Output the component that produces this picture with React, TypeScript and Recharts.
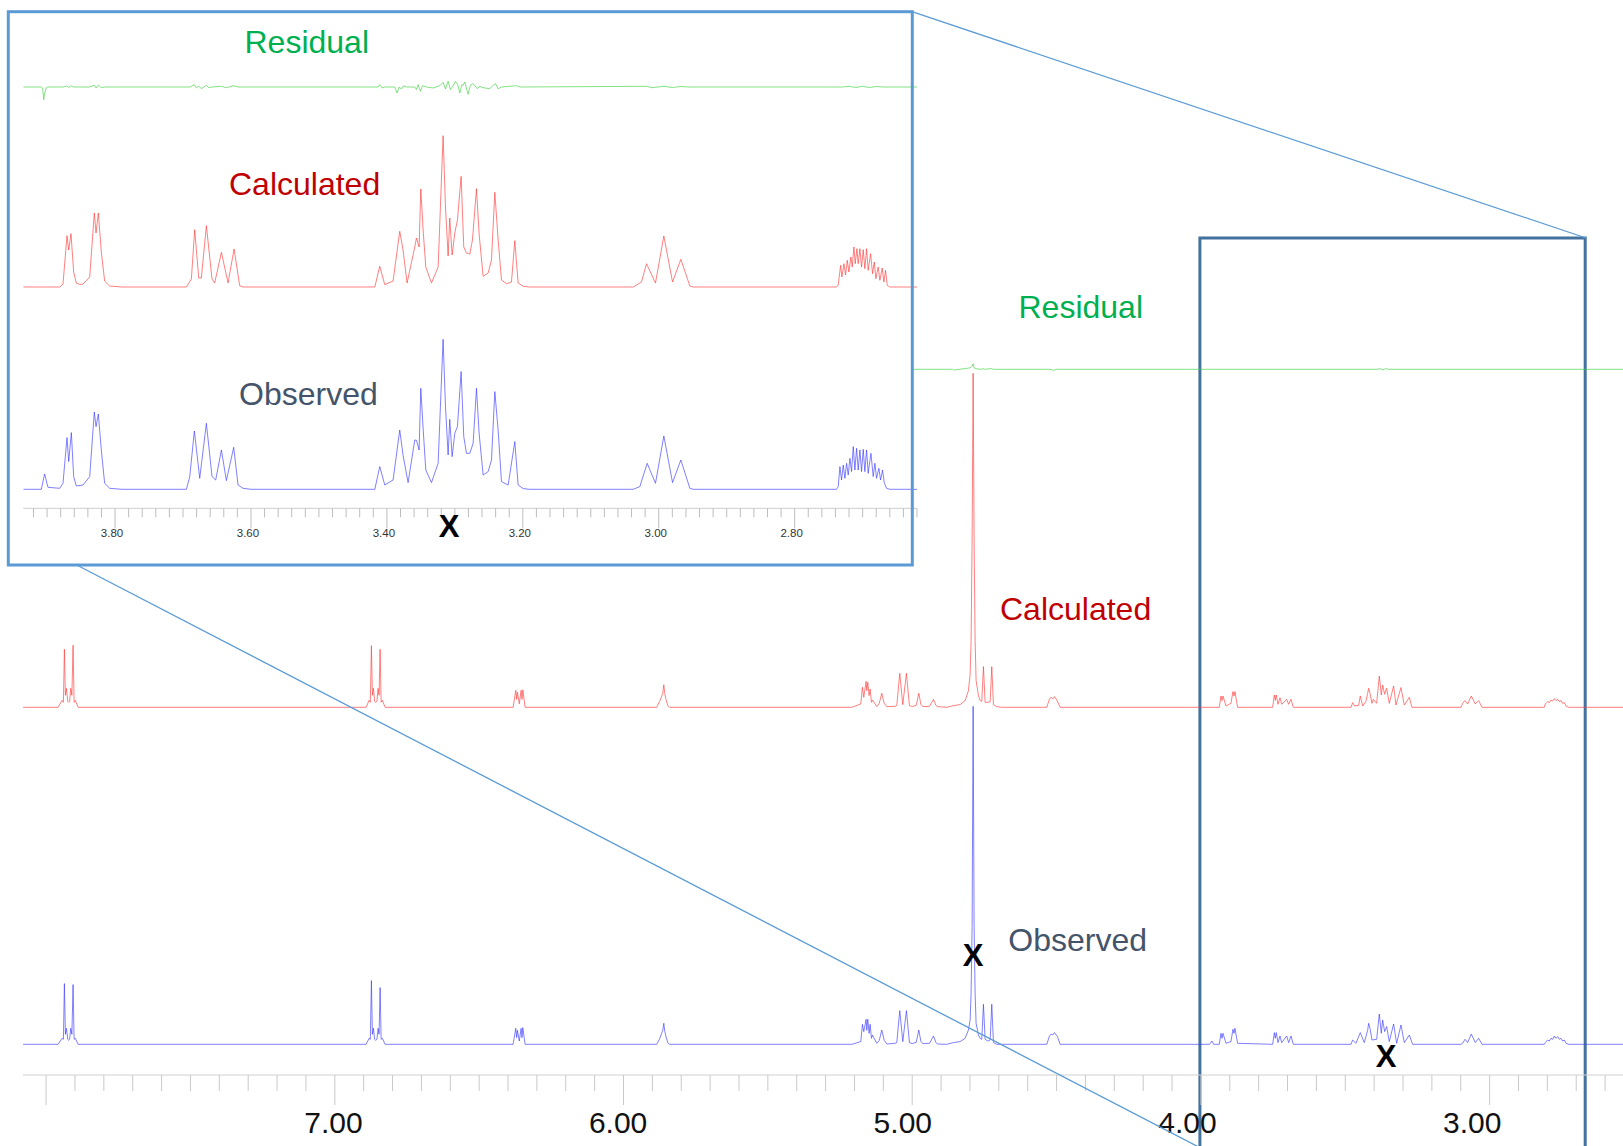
import React from 'react';
import { ComposedChart, LineChart, Line, XAxis, YAxis, ReferenceArea } from 'recharts';

type Pt = [number, number];

// ---------- Main spectrum (ppm, intensity) ----------
const mainObserved: Pt[] = [
  [8.08, 0], [7.9584, 0], [7.9446, 6], [7.94, 5], [7.9366, 60.7], [7.9331, 10], [7.9297, 16], [7.9249, 5], [7.9221, 4], [7.9186, 5], [7.9145, 16], [7.9107, 10], [7.9065, 59.7], [7.903, 5], [7.8985, 6], [7.8892, 0],
  [6.8916, 0], [6.8812, 6], [6.877, 5], [6.8732, 63.7], [6.8698, 10], [6.8663, 16], [6.862, 5], [6.8583, 4], [6.854, 5], [6.85, 16], [6.8466, 10], [6.8431, 56.7], [6.8395, 5], [6.8351, 6], [6.8258, 0],
  [6.3824, 0], [6.3731, 16], [6.37, 6.7], [6.3675, 14], [6.3609, 3.3], [6.3547, 16], [6.3515, 6.7], [6.3488, 16.7], [6.3408, 0],
  [5.885, 0], [5.8757, 5], [5.869, 10], [5.864, 14], [5.8604, 21], [5.857, 13], [5.853, 8], [5.8465, 1.5], [5.84, 0],
  [5.2093, 0], [5.1781, 2.7], [5.1724, 20], [5.1677, 12.7], [5.1597, 25], [5.1574, 14], [5.1539, 25], [5.1493, 11], [5.1458, 20], [5.1412, 6], [5.1377, 9.3], [5.1227, 1], [5.114, 4], [5.1054, 14.3], [5.097, 4], [5.0881, 0.3],
  [5.0592, 1], [5.0534, 1.7], [5.0431, 33.7], [5.0327, 2.7], [5.02, 33.7], [5.0096, 1.7], [5.0, 0.7],
  [4.986, 2], [4.9772, 14.3], [4.97, 3], [4.9634, 0.7],
  [4.94, 1], [4.9264, 8.3], [4.918, 2], [4.9126, 0.3],
  [4.8803, 0], [4.8572, 1.7], [4.8341, 2.7], [4.8168, 6], [4.8052, 14.3], [4.7994, 24.3], [4.796, 51], [4.7925, 117.7], [4.789, 338], [4.7856, 117.7], [4.7821, 51], [4.7787, 21], [4.7706, 9.3], [4.7648, 6], [4.759, 5], [4.7532, 40], [4.7475, 5], [4.7382, 3.3], [4.73, 4.3], [4.7244, 40], [4.7186, 1.7], [4.7071, 0],
  [4.5339, 0], [4.5246, 8.3], [4.5189, 10.3], [4.5131, 9.3], [4.5073, 11.7], [4.5015, 9.3], [4.4969, 7.7], [4.4877, 0],
  [3.97, 0], [3.9617, 3.3], [3.956, 0],
  [3.9363, 0], [3.9305, 11], [3.927, 6], [3.9236, 11], [3.9132, 1], [3.8959, 2.7], [3.889, 15], [3.8855, 11], [3.8821, 16], [3.8728, 1],
  [3.7515, 0], [3.7457, 11.7], [3.7423, 6], [3.7388, 11.7], [3.733, 1.7], [3.7261, 8.3], [3.7203, 1.7], [3.703, 8.3], [3.6961, 1.7], [3.688, 8.3], [3.6799, 0],
  [3.4802, 0], [3.4745, 4.3], [3.4629, 1], [3.4479, 11.7], [3.4341, 1.7], [3.4225, 14], [3.419, 21], [3.4144, 16], [3.4075, 4.3], [3.3913, 5], [3.3821, 30.3], [3.3752, 11], [3.3706, 24.3], [3.3636, 12.7], [3.3567, 17.7], [3.3475, 2.7], [3.3325, 20.3], [3.3221, 1], [3.3071, 19.3], [3.2955, 1.7], [3.2782, 9.3], [3.2667, 0],
  [3.0992, 0], [3.0934, 1], [3.0854, 5], [3.0761, 1.7], [3.0634, 10.3], [3.0496, 1.7], [3.038, 6], [3.0264, 0],
  [2.8105, 0], [2.8071, 1.7], [2.799, 4.3], [2.7932, 3.3], [2.7874, 6], [2.7816, 5], [2.7759, 8.3], [2.7701, 6], [2.7643, 7.7], [2.7585, 5], [2.7528, 6], [2.747, 3.3], [2.7412, 4.3], [2.7354, 1], [2.7262, 0],
  [2.538, 0],
];

const mainCalculated: Pt[] = [
  [8.08, 0], [7.9584, 0], [7.9446, 7], [7.94, 5], [7.9366, 58], [7.9331, 12], [7.9297, 19], [7.9249, 6], [7.9221, 5], [7.9186, 6], [7.9145, 19], [7.9107, 12], [7.9065, 62], [7.903, 5], [7.8985, 7], [7.8892, 0],
  [6.8916, 0], [6.8812, 7], [6.877, 5], [6.8732, 61.6], [6.8698, 12], [6.8663, 19], [6.862, 6], [6.8583, 5], [6.854, 6], [6.85, 19], [6.8466, 12], [6.8431, 58], [6.8395, 5], [6.8351, 7], [6.8258, 0],
  [6.3824, 0], [6.3731, 17], [6.37, 8], [6.3675, 15], [6.3609, 3.5], [6.3547, 17], [6.3515, 8], [6.3488, 17.5], [6.3408, 0],
  [5.885, 0], [5.8757, 5.5], [5.869, 10], [5.864, 14], [5.8604, 22.5], [5.857, 14], [5.853, 8], [5.8465, 1.5], [5.84, 0],
  [5.2093, 0], [5.1781, 3.3], [5.1724, 20], [5.1677, 10], [5.1597, 26], [5.1574, 16.7], [5.1539, 25], [5.1493, 11.7], [5.1458, 18.3], [5.1412, 5], [5.1377, 7.3], [5.1227, 0.7], [5.114, 4], [5.1054, 14], [5.097, 4], [5.0881, 0.7],
  [5.0592, 1], [5.0534, 1.7], [5.0431, 34], [5.0327, 2.7], [5.02, 34], [5.0096, 1.7], [5.0, 0.7],
  [4.986, 2], [4.9772, 14], [4.97, 3], [4.9634, 0.7],
  [4.94, 1], [4.9264, 8], [4.918, 2], [4.9126, 0.7],
  [4.8803, 0], [4.8572, 1.7], [4.8341, 2.7], [4.8168, 6.7], [4.8052, 16.7], [4.7994, 33], [4.796, 66.7], [4.7925, 166.7], [4.789, 334], [4.7856, 166.7], [4.7821, 66.7], [4.7787, 26.7], [4.7706, 11.7], [4.7648, 6.7], [4.759, 6], [4.7532, 40.7], [4.7475, 5], [4.7382, 5], [4.73, 5.5], [4.7244, 40.7], [4.7186, 2.7], [4.7071, 0.7], [4.69, 0],
  [4.5339, 0], [4.5246, 8.3], [4.5189, 10], [4.5131, 8.3], [4.5073, 10.7], [4.5015, 8.3], [4.4969, 6], [4.4877, 0],
  [3.9363, 0], [3.9305, 11.3], [3.927, 6.7], [3.9236, 11.3], [3.9132, 1.3], [3.8959, 4], [3.889, 15.7], [3.8855, 11.3], [3.8821, 15.7], [3.8728, 0],
  [3.7515, 0], [3.7457, 12.3], [3.7423, 7], [3.7388, 12.3], [3.733, 3], [3.7261, 9.5], [3.7203, 3], [3.703, 8], [3.6961, 3], [3.688, 8], [3.6799, 0],
  [3.4802, 0], [3.4745, 4.7], [3.4675, 1.3], [3.4537, 2], [3.4479, 11.3], [3.4398, 1.3], [3.4283, 6], [3.4225, 14], [3.419, 19], [3.4144, 14], [3.4075, 4], [3.4029, 8], [3.3913, 4], [3.3821, 31.3], [3.3752, 12.3], [3.3706, 22.3], [3.3636, 13], [3.3567, 19], [3.3475, 4], [3.3325, 21.3], [3.3244, 2.3], [3.3071, 19.7], [3.2955, 2.3], [3.2782, 10], [3.269, 0],
  [3.0992, 0], [3.0934, 4], [3.0854, 6.7], [3.0761, 3.3], [3.0634, 11.3], [3.0496, 3.3], [3.038, 6.7], [3.0264, 0],
  [2.8105, 0], [2.8071, 3.3], [2.799, 5.7], [2.7932, 4.7], [2.7874, 7.3], [2.7816, 6.3], [2.7759, 8.7], [2.7701, 6.7], [2.7643, 8], [2.7585, 5.7], [2.7528, 6.7], [2.747, 4], [2.7412, 4.7], [2.7354, 1.3], [2.7262, 0],
  [2.538, 0],
];

const mainResidual: Pt[] = [
  [8.08, 0], [4.86, 0], [4.8572, -0.7], [4.8168, 0.7], [4.7994, 1.5], [4.7925, 3], [4.789, 5.5], [4.7856, 1.5], [4.7821, 0.7], [4.7706, 0.3], [4.76, 0],
  [4.7532, 0.7], [4.75, 0], [4.7244, 0.7], [4.72, 0], [4.52, 0], [4.51, -1], [4.5, 0],
  [3.39, 0], [3.38, 0.7], [3.37, -0.7], [3.36, 0.7], [3.35, 0], [2.538, 0],
];

// ---------- Inset (zoomed region, ppm, intensity) ----------
const insetObserved: Pt[] = [
  [3.935, 0], [3.9085, 0], [3.9036, 15.3], [3.8987, 2], [3.8815, 1], [3.8766, 6], [3.8707, 51.7], [3.8682, 27.7], [3.8643, 56.7], [3.8609, 12.7], [3.857, 3.3], [3.8471, 4.3], [3.8373, 12.7], [3.8305, 77.3], [3.828, 62.7], [3.8246, 75.3], [3.8202, 39.3], [3.8153, 6], [3.8079, 1], [3.79, 0],
  [3.695, 0], [3.6901, 12.7], [3.6833, 58.3], [3.6754, 11], [3.6656, 66], [3.6573, 12.7], [3.6519, 9.3], [3.6435, 39.3], [3.6362, 8.7], [3.6254, 42], [3.619, 4.3], [3.6117, 1], [3.6, 0],
  [3.4178, 0], [3.4105, 22.7], [3.4031, 4.3], [3.3909, 9.3], [3.3811, 59.3], [3.3762, 34], [3.3688, 6.7], [3.359, 49.3], [3.3565, 49], [3.3526, 39.3], [3.3501, 101], [3.3467, 61], [3.3428, 19.3], [3.3344, 6.7], [3.3246, 26], [3.3173, 150], [3.3138, 82.7], [3.3099, 34.3], [3.3075, 70], [3.304, 32.7], [3.3001, 56], [3.2962, 62.7], [3.2908, 117.7], [3.2869, 52.7], [3.2829, 36], [3.278, 36], [3.2731, 46], [3.2682, 101], [3.2643, 56], [3.2584, 14.3], [3.251, 17.7], [3.2461, 29.3], [3.2412, 97.7], [3.2363, 59], [3.2314, 7.7], [3.2216, 4.3], [3.2118, 47.7], [3.2069, 4.3], [3.1995, 0.7], [3.19, 0],
  [3.0376, 0], [3.0278, 2.7], [3.017, 26], [3.0048, 6], [2.9925, 53.3], [2.9797, 6.7], [2.9675, 29.3], [2.9542, 1], [2.9493, 0],
  [2.7383, 0], [2.7359, 2.7], [2.7334, 22.7], [2.731, 9.3], [2.7285, 24.3], [2.7261, 11], [2.7236, 26], [2.7212, 14.3], [2.7187, 31], [2.7163, 17.7], [2.7138, 42.7], [2.7114, 19.3], [2.7089, 41], [2.7065, 19.3], [2.704, 39.3], [2.7016, 17.7], [2.6991, 40], [2.6967, 17.7], [2.6942, 39.3], [2.6918, 16], [2.6878, 36], [2.6844, 12.7], [2.682, 26], [2.6795, 11], [2.6761, 21], [2.6736, 9.3], [2.6707, 19.3], [2.6682, 6.7], [2.6648, 1], [2.6599, 0],
  [2.62, 0],
];

const insetCalculated: Pt[] = [
  [3.935, 0], [3.8815, 0], [3.8766, 3], [3.8707, 51.3], [3.8682, 37], [3.8648, 53.3], [3.8609, 15], [3.857, 4], [3.852, 2.5], [3.8471, 3], [3.8373, 10], [3.8305, 74], [3.828, 54], [3.8246, 74], [3.8202, 35], [3.8153, 6], [3.8079, 1], [3.79, 0],
  [3.695, 0], [3.6877, 8], [3.6828, 57.3], [3.6769, 9], [3.673, 9], [3.6656, 61.3], [3.6573, 8], [3.6534, 4], [3.6435, 34.7], [3.6337, 4], [3.6249, 38], [3.6166, 1.3], [3.6117, 0],
  [3.4178, 0], [3.4105, 20.7], [3.4031, 2.3], [3.3909, 6], [3.3811, 55.7], [3.3762, 37], [3.3703, 4], [3.359, 40], [3.3565, 49], [3.3526, 40], [3.3501, 98], [3.3467, 57], [3.3428, 20], [3.3344, 4], [3.3246, 20], [3.3173, 151.3], [3.3138, 80], [3.3099, 31], [3.3075, 69], [3.304, 32], [3.3001, 54], [3.2962, 67], [3.2908, 110.7], [3.2869, 40], [3.2829, 34], [3.278, 33], [3.2741, 47], [3.2682, 98.3], [3.2643, 53], [3.2584, 10.7], [3.251, 14], [3.2461, 27], [3.2412, 94.7], [3.2363, 47], [3.2314, 7], [3.224, 3.3], [3.2167, 5], [3.2118, 46.3], [3.2069, 4], [3.1995, 0.7], [3.19, 0],
  [3.0376, 0], [3.0254, 5], [3.018, 23.3], [3.0048, 4], [2.9925, 51], [2.9797, 5], [2.9675, 27.7], [2.9542, 1], [2.9493, 0],
  [2.7383, 0], [2.7359, 2], [2.7324, 21.7], [2.7305, 10], [2.7275, 23.3], [2.7251, 12], [2.7226, 26.7], [2.7202, 15], [2.7173, 30], [2.7153, 20], [2.7128, 40], [2.7109, 23.3], [2.7084, 38.3], [2.7065, 23.3], [2.704, 38.3], [2.7016, 20], [2.6991, 37.3], [2.6967, 18.3], [2.6942, 38.3], [2.6918, 16.7], [2.6883, 33.3], [2.6854, 13.3], [2.6829, 25], [2.6805, 8.3], [2.6771, 20], [2.6746, 6.7], [2.6712, 19], [2.6687, 5], [2.6663, 16.7], [2.6638, 1.7], [2.6599, 0],
  [2.62, 0],
];

const insetResidual: Pt[] = [
  [3.935, 0], [3.9085, 0], [3.9065, -1], [3.905, -12.7], [3.9036, -6], [3.9011, -0.7], [3.899, 0],
  [3.8766, 0], [3.8707, 1], [3.8682, -0.7], [3.8648, 1.3], [3.8609, 0],
  [3.8373, 0], [3.8305, 1.7], [3.828, -1], [3.8246, 2], [3.8202, -0.7], [3.8153, 0],
  [3.6901, 0], [3.6833, 2.3], [3.6803, -1], [3.6769, 1], [3.673, -1.7], [3.6656, 1.7], [3.662, -0.7], [3.6573, 0],
  [3.6435, 0.7], [3.6362, -0.7], [3.6254, 1.3], [3.619, 0],
  [3.4129, 0], [3.4105, 2.3], [3.407, -1], [3.4031, 0], [3.3884, 0], [3.385, -6], [3.382, 0], [3.3786, -2], [3.3752, 1.3], [3.3713, 0],
  [3.359, 0], [3.3565, -2.7], [3.3541, 2.3], [3.3506, -4.3], [3.3477, 1.3], [3.3418, 0], [3.332, -1], [3.3222, 1.3], [3.3173, 4.7], [3.3138, -2], [3.3099, 5.7], [3.3065, -2.7], [3.3025, 1.3], [3.2991, 5.7], [3.2957, 2.3], [3.2927, -6], [3.2898, 2.3], [3.2878, 1.7], [3.2854, 5], [3.2805, -7.3], [3.2771, 1.7], [3.2741, 3.3], [3.2707, 1.7], [3.2672, -1.7], [3.2633, 0.7], [3.2584, -0.7], [3.2486, -1.7], [3.2437, 1.7], [3.2402, 3.3], [3.2363, -1.7], [3.2314, 0], [3.2093, 1.3], [3.2044, 0],
  [3.018, 0.7], [3.01, -0.7], [2.9925, 0.7], [2.98, -0.5], [2.9675, 0.5], [2.955, 0],
  [2.73, 0], [2.72, 0.7], [2.71, -0.5], [2.7, 0.7], [2.69, -0.5], [2.68, 0.5], [2.67, 0],
  [2.62, 0],
];

// ---------- Axis ticks and labels ----------
const mainLabelledTicks = [7, 6, 5, 4, 3];
const mainTickLabels = ['7.00', '6.00', '5.00', '4.00', '3.00'];
const mainMajorTicks = [8, 7, 6, 5, 4, 3];
const insetLabelledTicks = [3.8, 3.6, 3.4, 3.2, 3.0, 2.8];
const insetTickLabels = ['3.80', '3.60', '3.40', '3.20', '3.00', '2.80'];

const mainTicks: number[] = [];
for (let i = 80; i >= 26; i--) mainTicks.push(i / 10);
const insetTicks: number[] = [];
for (let i = 196; i >= 131; i--) insetTicks.push(i / 50);

const zoomRange = { from: 4.0035, to: 2.669 };

const FONT = '"Liberation Sans", Arial, Helvetica, sans-serif';
const C_OBS = '#3a3aff';
const C_CALC = '#ff3a3a';
const C_RES = '#3fd23f';
const LW = 0.65;

const rows = (pts: Pt[]) => pts.map(([x, y]) => ({ x, y }));

const near = (a: number, b: number) => Math.abs(a - b) < 1e-6;

// the printed labels of the main axis drift slightly left of their ticks (as in the source figure)
const MainTick = (props: any) => {
  const { x, y, payload } = props;
  const v = payload.value as number;
  const major = mainMajorTicks.some((m) => near(m, v));
  const li = mainLabelledTicks.findIndex((m) => near(m, v));
  const drift = -1.4 - 4 * (7 - v);
  return (
    <g>
      <line x1={x} x2={x} y1={y} y2={y + (major ? 30 : 16)} stroke="#c9c9c9" strokeWidth={1} />
      {li >= 0 && (
        <text x={x + drift} y={y + 58} textAnchor="middle" fontSize={30} fontFamily={FONT} fill="#111">
          {mainTickLabels[li]}
        </text>
      )}
    </g>
  );
};

const InsetTick = (props: any) => {
  const { x, y, payload } = props;
  const v = payload.value as number;
  const li = insetLabelledTicks.findIndex((m) => near(m, v));
  return (
    <g>
      <line x1={x} x2={x} y1={y} y2={y + (li >= 0 ? 20 : 9)} stroke="#bdbdbd" strokeWidth={1} />
      {li >= 0 && (
        <text x={x - 3} y={y + 28.4} textAnchor="middle" fontSize={11.5} fontFamily={FONT} fill="#333">
          {insetTickLabels[li]}
        </text>
      )}
    </g>
  );
};

const MainChart = () => (
  <ComposedChart width={1623} height={1146} margin={{ top: 0, right: 0, bottom: 0, left: 23 }}>
    <XAxis
      dataKey="x"
      type="number"
      domain={[2.538, 8.08]}
      reversed
      allowDataOverflow
      ticks={mainTicks}
      interval={0}
      tickLine={false}
      tickSize={0}
      tickMargin={0}
      tick={<MainTick />}
      axisLine={{ stroke: '#d0d0d0', strokeWidth: 1 }}
      height={71}
    />
    <YAxis yAxisId="obs" hide width={0} type="number" domain={[-30.7, 1044.3]} allowDataOverflow />
    <YAxis yAxisId="calc" hide width={0} type="number" domain={[-367.7, 707.3]} allowDataOverflow />
    <YAxis yAxisId="res" hide width={0} type="number" domain={[-705.7, 369.3]} allowDataOverflow />
    <Line yAxisId="res" data={rows(mainResidual)} dataKey="y" type="linear" stroke={C_RES} strokeWidth={LW} dot={false} activeDot={false} isAnimationActive={false} />
    <Line yAxisId="calc" data={rows(mainCalculated)} dataKey="y" type="linear" stroke={C_CALC} strokeWidth={LW} dot={false} activeDot={false} isAnimationActive={false} />
    <Line yAxisId="obs" data={rows(mainObserved)} dataKey="y" type="linear" stroke={C_OBS} strokeWidth={LW} dot={false} activeDot={false} isAnimationActive={false} />
    <ReferenceArea
      yAxisId="obs"
      x1={zoomRange.from}
      x2={zoomRange.to}
      y1={-104}
      y2={806.3}
      ifOverflow="visible"
      fill="none"
      fillOpacity={0}
      stroke="#44729e"
      strokeWidth={3}
    />
  </ComposedChart>
);

const InsetChart = () => (
  <LineChart width={930} height={570} margin={{ top: 0, right: 13, bottom: 0, left: 23.3 }}>
    <XAxis
      dataKey="x"
      type="number"
      domain={[2.62, 3.935]}
      reversed
      allowDataOverflow
      ticks={insetTicks}
      interval={0}
      tickLine={false}
      tickSize={0}
      tickMargin={0}
      tick={<InsetTick />}
      axisLine={{ stroke: '#cccccc', strokeWidth: 1 }}
      height={61.7}
    />
    <YAxis yAxisId="obs" hide width={0} type="number" domain={[-19, 489.3]} allowDataOverflow />
    <YAxis yAxisId="calc" hide width={0} type="number" domain={[-221.3, 287]} allowDataOverflow />
    <YAxis yAxisId="res" hide width={0} type="number" domain={[-421.3, 87]} allowDataOverflow />
    <Line yAxisId="res" data={rows(insetResidual)} dataKey="y" type="linear" stroke={C_RES} strokeWidth={LW} dot={false} activeDot={false} isAnimationActive={false} />
    <Line yAxisId="calc" data={rows(insetCalculated)} dataKey="y" type="linear" stroke={C_CALC} strokeWidth={LW} dot={false} activeDot={false} isAnimationActive={false} />
    <Line yAxisId="obs" data={rows(insetObserved)} dataKey="y" type="linear" stroke={C_OBS} strokeWidth={LW} dot={false} activeDot={false} isAnimationActive={false} />
  </LineChart>
);

const labelStyle = { fontFamily: FONT, fontSize: 32 } as const;
const markStyle = { fontFamily: FONT, fontSize: 31, fontWeight: 700 } as const;

export default function App() {
  return (
    <div style={{ position: 'absolute', left: 0, top: 0, width: 1623, height: 1146, background: '#fff', overflow: 'hidden' }}>
      <div style={{ position: 'absolute', left: 0, top: 0 }}>
        <MainChart />
      </div>
      <svg style={{ position: 'absolute', left: 0, top: 0 }} width={930} height={570}>
        <rect x={8.3} y={11.7} width={904} height={553.3} fill="#fff" />
      </svg>
      <div style={{ position: 'absolute', left: 0, top: 0 }}>
        <InsetChart />
      </div>
      <svg style={{ position: 'absolute', left: 0, top: 0, pointerEvents: 'none' }} width={1623} height={1146}>
        <rect x={8.3} y={11.7} width={904} height={553.3} fill="none" stroke="#5b9bd5" strokeWidth={3} />
        <line x1={912} y1={11.7} x2={1586} y2={238} stroke="#5b9bd5" strokeWidth={1.3} />
        <line x1={76.7} y1={565} x2={1200.6} y2={1148} stroke="#5b9bd5" strokeWidth={1.3} />
        <text x={244.5} y={53.3} fill="#00b050" style={labelStyle}>Residual</text>
        <text x={229} y={195} fill="#c00000" style={labelStyle}>Calculated</text>
        <text x={239} y={405} fill="#44546a" style={labelStyle}>Observed</text>
        <text x={1018.5} y={318} fill="#00b050" style={labelStyle}>Residual</text>
        <text x={1000} y={620} fill="#c00000" style={labelStyle}>Calculated</text>
        <text x={1008.3} y={950.7} fill="#44546a" style={labelStyle}>Observed</text>
        <text x={973} y={966} textAnchor="middle" fill="#000" style={markStyle}>X</text>
        <text x={1386} y={1067} textAnchor="middle" fill="#000" style={markStyle}>X</text>
        <text x={449} y={537} textAnchor="middle" fill="#000" style={markStyle}>X</text>
      </svg>
    </div>
  );
}
